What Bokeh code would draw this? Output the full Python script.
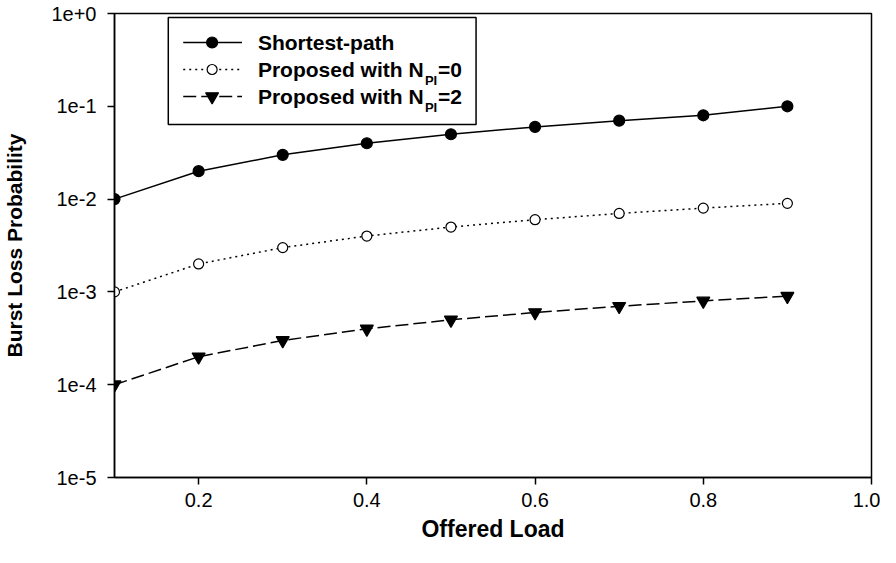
import math
from bokeh.plotting import figure
from bokeh.models import FixedTicker
from bokeh.core.properties import value
from bokeh.embed import file_html
from bokeh.resources import INLINE

# ---- data ----
offered_load = [0.1, 0.2, 0.3, 0.4, 0.5, 0.6, 0.7, 0.8, 0.9]
shortest_path = [0.01, 0.02, 0.03, 0.04, 0.05, 0.06, 0.07, 0.08, 0.1]
proposed_npi0 = [0.001, 0.002, 0.003, 0.004, 0.005, 0.006, 0.007, 0.008, 0.009]
proposed_npi2 = [0.0001, 0.0002, 0.0003, 0.0004, 0.0005, 0.0006, 0.0007, 0.0008, 0.0009]

x_ticks = [0.2, 0.4, 0.6, 0.8, 1.0]
x_tick_labels = ["0.2", "0.4", "0.6", "0.8", "1.0"]
y_ticks = [1e-5, 1e-4, 1e-3, 1e-2, 1e-1, 1.0]
y_tick_labels = ["1e-5", "1e-4", "1e-3", "1e-2", "1e-1", "1e+0"]

legend_main = ["Shortest-path", "Proposed with N", "Proposed with N"]
legend_sub = ["", "PI", "PI"]
legend_tail = ["", "=0", "=2"]

X0, X1 = 0.1, 1.0
Y0, Y1 = 1e-5, 1.0

FONT = value("Liberation Sans")

p = figure(width=880, height=547, x_range=(X0, X1), y_range=(Y0, Y1),
           y_axis_type="log", output_backend="svg", toolbar_location=None,
           min_border_left=111, min_border_right=9, min_border_top=13,
           min_border_bottom=70, background_fill_color="white",
           border_fill_color="white")

p.xgrid.visible = False
p.ygrid.visible = False
p.outline_line_color = "black"
p.outline_line_width = 1.5
p.outline_line_alpha = 1.0

for ax in (p.xaxis[0], p.yaxis[0]):
    ax.axis_line_width = 1.5
    ax.axis_line_color = "black"
    ax.major_tick_in = 0
    ax.major_tick_out = 7
    ax.major_tick_line_width = 1.5
    ax.minor_tick_line_color = None
    ax.major_label_text_font = "Liberation Sans"
    ax.major_label_text_font_size = "20px"
    ax.major_label_text_color = "black"
    ax.axis_label_text_font = "Liberation Sans"
    ax.axis_label_text_font_style = "bold"
    ax.axis_label_text_color = "black"

p.xaxis.ticker = FixedTicker(ticks=x_ticks, minor_ticks=[])
p.xaxis.major_label_overrides = dict(zip(x_ticks, x_tick_labels))
p.xaxis.axis_label = "Offered Load"
p.xaxis.axis_label_text_font_size = "23px"
p.xaxis.major_label_standoff = 8
p.xaxis.axis_label_standoff = 6

p.yaxis.ticker = FixedTicker(ticks=y_ticks, minor_ticks=[])
p.yaxis.major_label_overrides = dict(zip(y_ticks, y_tick_labels))
p.yaxis.axis_label = "Burst Loss Probability"
p.yaxis.axis_label_text_font_size = "21px"
p.yaxis.major_label_standoff = 11
p.yaxis.axis_label_standoff = 22

styles = [
    dict(line_dash="solid", line_width=1.5, marker="circle", size=11,
         fill_color="black"),
    dict(line_dash="2 4", line_width=1.5, marker="circle", size=10,
         fill_color="white"),
    dict(line_dash="13 5", line_width=1.5, marker="inverted_triangle", size=13,
         fill_color="black"),
]
series = [shortest_path, proposed_npi0, proposed_npi2]

for ys, st in zip(series, styles):
    p.line(offered_load, ys, line_color="black", line_width=st["line_width"],
           line_dash=st["line_dash"])
    p.scatter(offered_load, ys, marker=st["marker"], size=st["size"],
              fill_color=st["fill_color"], line_color="black", line_width=1.2)

# ---- legend (screen-pixel layout converted to data coords) ----
FL, FR, FT, FB = 119.0, 879.0, 21.0, 485.0


def dx(sx):
    return X0 + (sx - FL) / (FR - FL) * (X1 - X0)


def dy(sy):
    ly0, ly1 = math.log10(Y0), math.log10(Y1)
    return 10 ** (ly1 - (sy - FT) / (FB - FT) * (ly1 - ly0))


p.quad(left=[dx(173)], right=[dx(482)], top=[dy(25)], bottom=[dy(132)],
       fill_color="white", line_color="black", line_width=1.5)

row_sy = [50, 77, 104]
for i, st in enumerate(styles):
    yy = dy(row_sy[i])
    p.line([dx(188), dx(247)], [yy, yy], line_color="black",
           line_width=st["line_width"], line_dash=st["line_dash"])
    p.scatter([dx(217)], [yy], marker=st["marker"], size=st["size"],
              fill_color=st["fill_color"], line_color="black", line_width=1.2)
    p.text([dx(263)], [yy], text=[legend_main[i]], text_font=FONT,
           text_font_style="bold", text_font_size="21px",
           text_baseline="middle", text_align="left", text_color="black")
    if legend_sub[i]:
        p.text([dx(263)], [yy], text=[legend_sub[i]], text_font=FONT,
               text_font_style="bold", text_font_size="13px",
               text_baseline="alphabetic", text_align="left",
               text_color="black", x_offset=167, y_offset=11)
        p.text([dx(263)], [yy], text=[legend_tail[i]], text_font=FONT,
               text_font_style="bold", text_font_size="21px",
               text_baseline="middle", text_align="left",
               text_color="black", x_offset=180)

open("out.html", "w").write(file_html(p, INLINE))
